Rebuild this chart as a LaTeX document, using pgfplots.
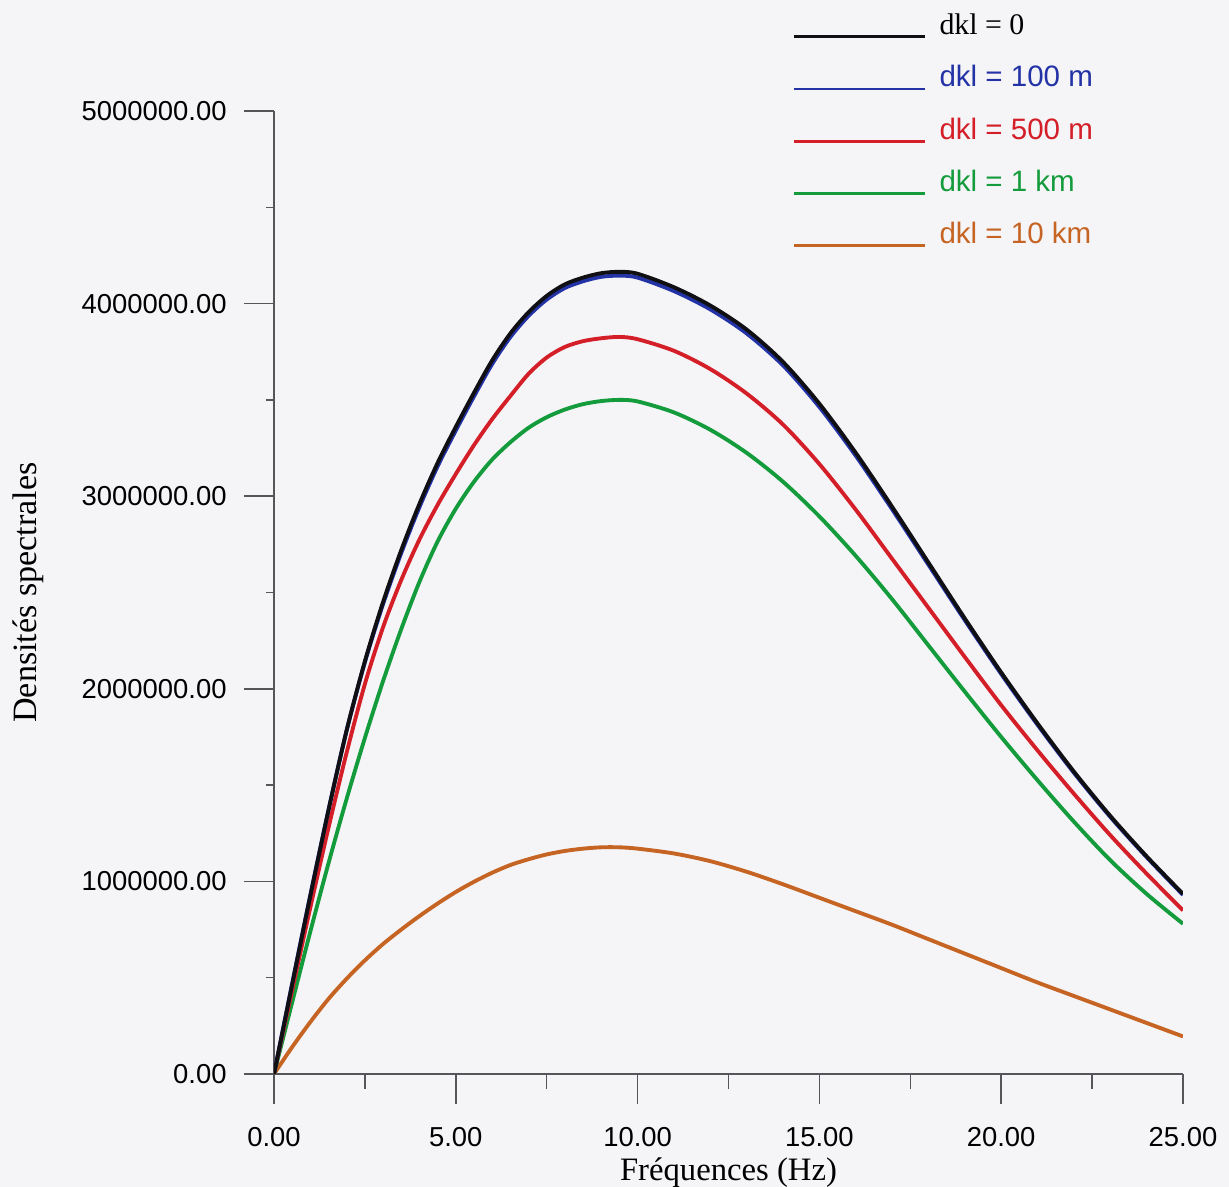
\documentclass[border=0pt]{standalone}
\usepackage{fontspec}
\setmainfont{Liberation Serif}
\setsansfont{Liberation Sans}
\usepackage{pgfplots}
\usepackage{pgfplotstable}
\pgfplotsset{compat=1.18}
\usetikzlibrary{backgrounds}

\definecolor{cblk}{RGB}{15,15,20}
\definecolor{cblue}{RGB}{35,50,165}
\definecolor{cred}{RGB}{212,30,40}
\definecolor{cgreen}{RGB}{20,155,60}
\definecolor{cbrown}{RGB}{198,100,35}
\definecolor{axgray}{RGB}{85,85,90}
\definecolor{bgc}{RGB}{245,245,247}

\pgfplotstableread{
f    k0       k100     k500     k1       k10
0    0        0        0        0        0
0.5  465000   470000   435000   372000   140000
1.0  925000   930000   865000   740000   270000
1.5  1370000  1372000  1280000  1095000  390000
2.0  1786000  1785000  1670000  1430000  495000
2.5  2143000  2138000  2025000  1745000  590000
3.0  2451000  2440000  2320000  2040000  675000
3.5  2720000  2705000  2565000  2310000  750000
4.0  2960000  2943000  2775000  2555000  820000
4.5  3173000  3155000  2955000  2765000  885000
5.0  3360000  3341000  3115000  2935000  945000
5.5  3537000  3518000  3265000  3075000  998000
6.0  3705000  3686000  3400000  3190000  1045000
6.5  3845000  3826000  3520000  3280000  1085000
7.0  3955000  3936000  3635000  3355000  1115000
7.5  4040000  4021000  3720000  3410000  1140000
8.0  4100000  4081000  3775000  3450000  1158000
8.5  4135000  4116000  3805000  3478000  1170000
9.0  4158000  4139000  3820000  3494000  1177000
9.5  4165000  4145000  3827000  3500000  1177000
10   4155000  4135000  3815000  3492000  1170000
11   4085000  4065000  3755000  3435000  1145000
12   3990000  3970000  3660000  3345000  1105000
13   3865000  3845000  3533000  3225000  1050000
14   3697000  3679000  3372000  3075000  985000
15   3480000  3463000  3167000  2895000  915000
16   3225000  3210000  2930000  2690000  845000
17   2945000  2932000  2675000  2465000  775000
18   2655000  2644000  2420000  2225000  700000
19   2365000  2356000  2165000  1985000  625000
20   2085000  2077000  1915000  1750000  550000
21   1820000  1813000  1680000  1525000  475000
22   1570000  1564000  1455000  1310000  405000
23   1340000  1335000  1240000  1110000  335000
24   1130000  1126000  1040000  935000   265000
25   935000   930000   850000   780000   195000
}\datatab

\begin{document}
\begin{tikzpicture}
\begin{axis}[
  scale only axis,
  width=90.9mm, height=96.3mm,
  xmin=0, xmax=25, ymin=0, ymax=5000000,
  axis x line=bottom, axis y line=left,
  axis line style={-, axgray, line width=0.45pt},
  tick align=outside,
  major tick length=3mm,
  tick style={axgray, line width=0.45pt},
  xtick={0,5,10,15,20,25},
  ytick={0,1000000,2000000,3000000,4000000,5000000},
  extra x ticks={2.5,7.5,12.5,17.5,22.5},
  extra x tick labels={},
  extra x tick style={major tick length=1.5mm},
  extra y ticks={500000,1500000,2500000,3500000,4500000},
  extra y tick labels={},
  extra y tick style={major tick length=0.8mm},
  scaled ticks=false,
  /pgf/number format/assume math mode=true,
  /pgf/number format/1000 sep={},
  xticklabel style={/pgf/number format/.cd, fixed, fixed zerofill, precision=2},
  yticklabel style={/pgf/number format/.cd, fixed, fixed zerofill, precision=2},
  tick label style={font=\sffamily\fontsize{7.8}{9}\selectfont, text=black},
  xticklabel shift=1.1mm,
  yticklabel shift=0.5mm,
  xlabel={Fréquences (Hz)},
  ylabel={Densités spectrales},
  xlabel style={font=\fontsize{9.3}{11}\selectfont, at={(rel axis cs:0.5,-0.1101)}, anchor=base},
  ylabel style={font=\fontsize{9.7}{11}\selectfont, at={(rel axis cs:-0.2618,0.5)}, anchor=base, rotate=0},
  legend cell align=left,
  reverse legend,
  legend image code/.code={%
    \draw[#1, line width=0.8pt] (0mm,-0.7mm) -- (13.1mm,-0.7mm);
    \path[draw=none, fill=none] (0mm,-1.3mm) rectangle (13.1mm,2.3mm);},
  legend style={at={(rel axis cs:0.56986,1.1090)}, anchor=north west,
    draw=none, fill=none, inner sep=0pt,
    nodes={inner sep=0pt, text depth={}},
    row sep=1.12mm, column sep=1.3mm,
    font=\fontsize{8.4}{10}\selectfont},
]
\addplot[cbrown, line width=1.1pt, smooth] table[x=f, y=k10] {\datatab};
\addlegendentry{\rule[-1.3mm]{0pt}{3.6mm}\textcolor{cbrown}{\sffamily dkl = 10 km}}
\addplot[cgreen, line width=1.1pt, smooth] table[x=f, y=k1] {\datatab};
\addlegendentry{\rule[-1.3mm]{0pt}{3.6mm}\textcolor{cgreen}{\sffamily dkl = 1 km}}
\addplot[cred, line width=1.1pt, smooth] table[x=f, y=k500] {\datatab};
\addlegendentry{\rule[-1.3mm]{0pt}{3.6mm}\textcolor{cred}{\sffamily dkl = 500 m}}
\addplot[cblue, line width=1.1pt, smooth] table[x=f, y=k100] {\datatab};
\addlegendentry{\rule[-1.3mm]{0pt}{3.6mm}\textcolor{cblue}{\sffamily dkl = 100 m}}
\addplot[cblk, line width=1.1pt, smooth] table[x=f, y=k0] {\datatab};
\addlegendentry{\rule[-1.3mm]{0pt}{3.6mm}{\fontsize{8.5}{10}\selectfont dkl = 0}}
\coordinate (bbBL) at (rel axis cs:-0.30143,-0.11734);
\coordinate (bbTR) at (rel axis cs:1.05061,1.11526);
\end{axis}
\pgfresetboundingbox
\path[use as bounding box] (bbBL) rectangle (bbTR);
\begin{scope}[on background layer]
\fill[bgc] (bbBL) rectangle (bbTR);
\end{scope}
\end{tikzpicture}
\end{document}
